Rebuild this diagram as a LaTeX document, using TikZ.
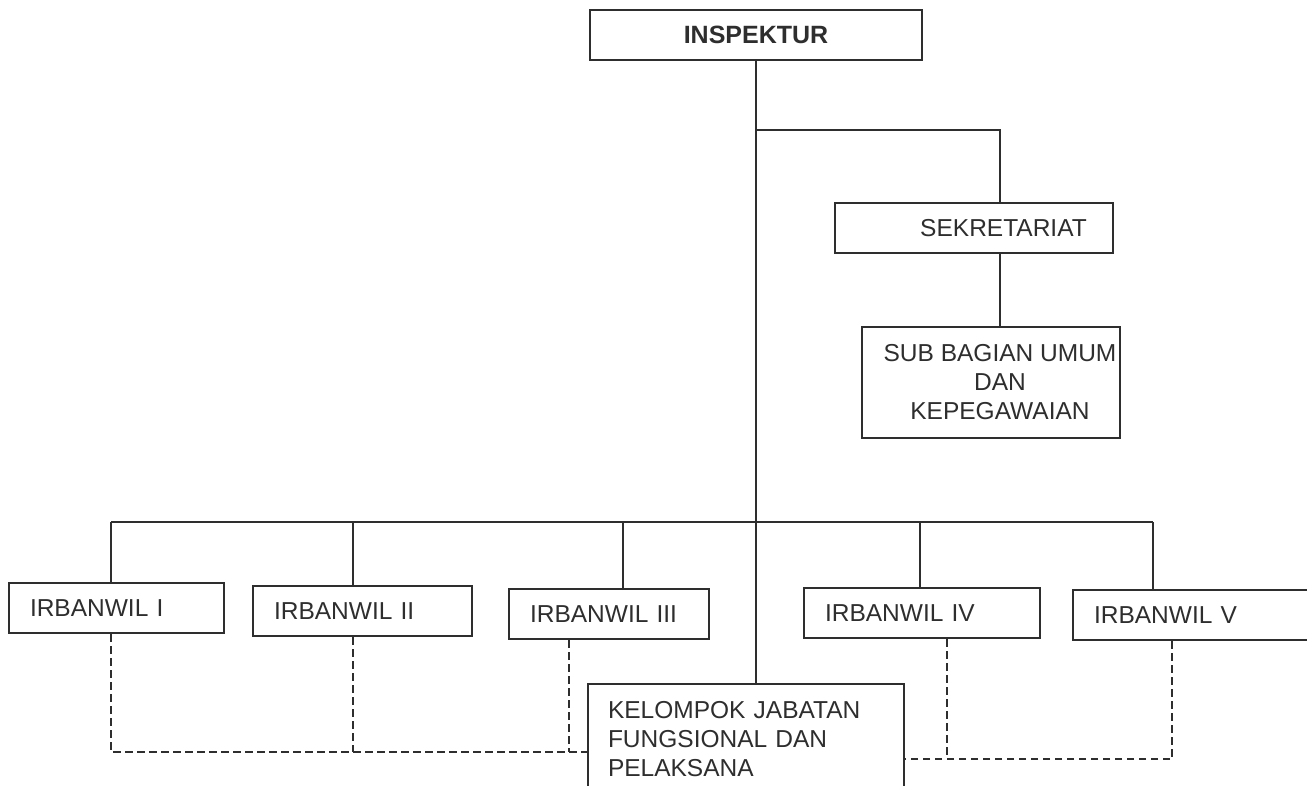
\documentclass[tikz,border=0pt]{standalone}
\usepackage{fontspec}
\setmainfont{Liberation Sans}
\definecolor{ink}{HTML}{2E2E2E}
\begin{document}
\begin{tikzpicture}[x=1pt,y=-1pt,
  box/.style={draw=ink, line width=2pt, text=ink, inner sep=0pt,
    font=\fontsize{24.5}{29}\selectfont},
  leftbox/.style={box, anchor=north west, align=left, inner xsep=21pt,
    minimum height=50pt},
  conn/.style={draw=ink, line width=2pt},
  dconn/.style={draw=ink, line width=2pt, dash pattern=on 7.5pt off 4.5pt}]
\useasboundingbox[fill=white] (0,0) rectangle (1307,786);

% boxes
\node[box, minimum width=332pt, minimum height=50pt,
      font=\fontsize{25}{29}\selectfont\bfseries] (insp) at (756,35) {INSPEKTUR};
\node[box, minimum width=278pt, minimum height=50pt] (sek) at (974,228)
      {\hspace*{59pt}SEKRETARIAT};
\node[box, minimum width=258pt, minimum height=111pt, align=center] (sub) at (991,382.5)
      {\hspace*{18pt}SUB BAGIAN UMUM\\\hspace*{18pt}DAN\\\hspace*{18pt}KEPEGAWAIAN};

\node[leftbox, text width=173pt] (ir1) at (8,582) {IRBANWIL I};
\node[leftbox, text width=177pt] (ir2) at (252,585) {IRBANWIL II};
\node[leftbox, text width=158pt] (ir3) at (508,588) {IRBANWIL III};
\node[leftbox, text width=194pt] (ir4) at (803,587) {IRBANWIL IV};
\node[leftbox, text width=198pt] (ir5) at (1072,589) {IRBANWIL V};

\node[box, anchor=north west, align=left, inner xsep=20pt, inner ysep=17pt,
      text width=276pt] (kel) at (587,683)
      {KELOMPOK JABATAN\\FUNGSIONAL DAN\\PELAKSANA};

% junction coordinates
\coordinate (j1) at (756,130);
\coordinate (d1) at (111,522);
\coordinate (d2) at (353,522);
\coordinate (d3) at (623,522);
\coordinate (d4) at (920,522);
\coordinate (d5) at (1153,522);
\coordinate (e1) at (111,752);
\coordinate (e2) at (353,752);
\coordinate (e3) at (569,752);
\coordinate (e4) at (947,759);
\coordinate (e5) at (1172,759);

% solid connectors
\draw[conn] (insp.south) -- (insp.south |- kel.north);
\draw[conn] (j1) -| ([xshift=26pt]sek.north);
\draw[conn] ([xshift=26pt]sek.south) -- ([xshift=9pt]sub.north);
\draw[conn] (d1) -- (d5);
\draw[conn] (d1) -- (d1 |- ir1.north);
\draw[conn] (d2) -- (d2 |- ir2.north);
\draw[conn] (d3) -- (d3 |- ir3.north);
\draw[conn] (d4) -- (d4 |- ir4.north);
\draw[conn] (d5) -- (d5 |- ir5.north);

% dashed connectors
\draw[dconn] (e1 |- ir1.south) -- (e1) -- (e1 -| kel.west);
\draw[dconn] (e2 |- ir2.south) -- (e2);
\draw[dconn] (e3 |- ir3.south) -- (e3);
\draw[dconn] (e4 |- ir4.south) -- (e4);
\draw[dconn] (e5 |- ir5.south) -- (e5) -- (e5 -| kel.east);
\end{tikzpicture}
\end{document}
